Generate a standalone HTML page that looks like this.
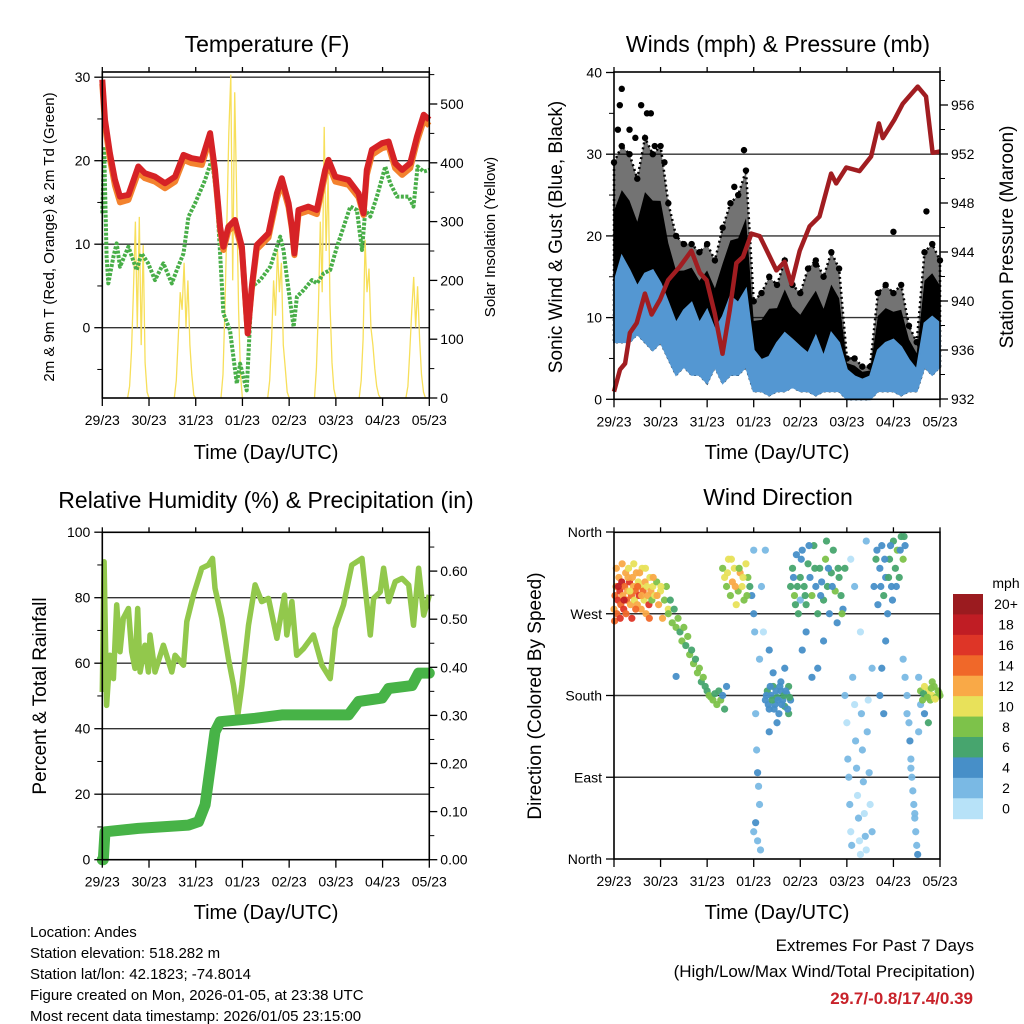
<!DOCTYPE html>
<html><head><meta charset="utf-8"><style>
html,body{margin:0;padding:0;background:#fff;}
svg{display:block;font-family:"Liberation Sans",sans-serif;}
</style></head><body>
<svg id="chart" width="1024" height="1024" viewBox="0 0 1024 1024" xmlns="http://www.w3.org/2000/svg">
<rect width="1024" height="1024" fill="#fff"/>
<g id="layer"></g>
<text x="267" y="52" font-size="23" text-anchor="middle">Temperature (F)</text>
<text x="778" y="52" font-size="23" text-anchor="middle">Winds (mph) &amp; Pressure (mb)</text>
<text x="266" y="508" font-size="23" text-anchor="middle">Relative Humidity (%) &amp; Precipitation (in)</text>
<text x="778" y="505" font-size="23" text-anchor="middle">Wind Direction</text>
<text transform="translate(54,237) rotate(-90)" font-size="15" text-anchor="middle">2m &amp; 9m T (Red, Orange) &amp; 2m Td (Green)</text>
<text transform="translate(495,237) rotate(-90)" font-size="15" text-anchor="middle">Solar Insolation (Yellow)</text>
<text transform="translate(562,237) rotate(-90)" font-size="19" text-anchor="middle">Sonic Wind &amp; Gust (Blue, Black)</text>
<text transform="translate(1013,237) rotate(-90)" font-size="19" text-anchor="middle">Station Pressure (Maroon)</text>
<text transform="translate(46,696) rotate(-90)" font-size="19" text-anchor="middle">Percent &amp; Total Rainfall</text>
<text transform="translate(541,696) rotate(-90)" font-size="19" text-anchor="middle">Direction (Colored By Speed)</text>
<text x="266" y="459" font-size="20" text-anchor="middle">Time (Day/UTC)</text>
<text x="777" y="459" font-size="20" text-anchor="middle">Time (Day/UTC)</text>
<text x="266" y="919" font-size="20" text-anchor="middle">Time (Day/UTC)</text>
<text x="777" y="919" font-size="20" text-anchor="middle">Time (Day/UTC)</text>
<g font-size="15">
<text x="30" y="937">Location: Andes</text>
<text x="30" y="958">Station elevation: 518.282 m</text>
<text x="30" y="979">Station lat/lon: 42.1823; -74.8014</text>
<text x="30" y="1000">Figure created on Mon, 2026-01-05, at 23:38 UTC</text>
<text x="30" y="1021">Most recent data timestamp: 2026/01/05 23:15:00</text>
</g>
<g font-size="17" text-anchor="end">
<text x="974" y="951">Extremes For Past 7 Days</text>
<text x="975" y="977">(High/Low/Max Wind/Total Precipitation)</text>
<text x="973" y="1004" fill="#c8222a" font-weight="bold">29.7/-0.8/17.4/0.39</text>
</g>
</svg>
<script>
// ---------- data ----------
const dayLabels = ["29/23","30/23","31/23","01/23","02/23","03/23","04/23","05/23"];
const tempTicks = [30,20,10,0];
const solarTicks = [0,100,200,300,400,500];
const windTicks = [0,10,20,30,40];
const pressTicks = [932,936,940,944,948,952,956];
const rhTicks = [0,20,40,60,80,100];
const rainTicks = [0,0.1,0.2,0.3,0.4,0.5,0.6];
const dirLabels = ["North","East","South","West","North"];
const dirTicks = [0,90,180,270,360];
const speedBins = ["0","2","4","6","8","10","12","14","16","18","20+"];
const speedColors = ["#b7e2f8","#7ab9e4","#478fc8","#47a56e","#7dc24a","#e8e15a","#f9a947","#f06829","#de3527","#c01d24","#9b1b1f"];

const tempT = [0,1.4,3.9,6.5,9.1,13.4,18.5,21.9,27.1,32.2,37.4,41.7,45.9,51.1,55.4,57.9,60.5,62.2,64.8,68.2,71.7,74.7,76.8,79.4,85.4,89.7,92.2,95.7,97.4,98.7,100.8,105.9,110.2,114.5,116.2,119.7,126.5,131.7,134.2,135.9,138.5,143.7,147.1,150.5,154,158.2,161.7,165.1,168];
const temp2m = [29.7,24.9,20.9,17.7,15.7,15.9,19.3,18.5,18.1,17.3,18.1,20.7,20.3,20.1,23.3,18.9,12.1,9.7,12.1,12.9,9.7,-0.7,4.9,9.9,11.3,16.1,17.9,14.9,12.1,8.9,14.1,14.5,14.1,18.9,20.1,18.1,17.7,16.1,13.7,18.9,21.3,22.1,22.3,19.7,18.9,19.7,22.9,25.5,24.9];
const temp9m = [29.2,24.2,20.2,17.0,15.0,15.3,18.6,17.9,17.5,16.7,17.5,20.1,19.7,19.5,22.7,18.5,11.8,9.3,11.6,12.3,9.3,-0.6,4.6,9.4,10.8,15.5,17.3,14.4,11.8,8.7,13.6,14.0,13.6,18.3,19.5,17.5,17.1,15.6,13.5,18.3,20.7,21.5,21.7,19.1,18.3,19.1,22.3,24.8,24.2];
const dewT = [0,0.9,2.2,3.1,5.7,7.4,9.1,13.4,17.6,20.2,23.6,27.1,31.4,35.7,38.3,41.7,44.3,47.7,52.8,56.2,58.8,60.5,62.2,65.6,69.1,70.8,74.2,76.8,81.1,86.3,91.4,93.1,94.8,98.3,100,103.4,107.7,110.3,113.7,117.1,120.6,127.4,130.8,133.4,135.1,137.7,141.1,145.4,147.9,151.4,157.4,159.9,162,165.1,168];
const dewVal = [13.7,21.7,8.5,5.3,8.5,10.1,7.3,9.7,6.9,8.9,7.7,5.7,7.7,5.3,6.9,8.9,13.3,14.9,17.7,20.1,15.7,8.9,1.7,-0.3,-6.7,-4.3,-7.5,4.9,5.7,7.3,10.9,9.3,6.1,0.1,3.7,4.5,5.7,5.3,6.5,6.9,9.7,14.5,14.1,9.3,14.1,13.3,15.7,19.3,17.3,15.7,15.7,14.5,19.3,18.7,18.9];
const solarStart = [13,37,61,85,109,132,156];
const solarDay1 = [0,20,80,180,300,120,308,90,260,60,10,0];
const solarDay2 = [0,30,100,180,150,230,120,200,90,40,5,0];
const solarDay3 = [0,40,150,300,450,550,200,520,350,150,40,0];
const solarDay4 = [0,30,100,200,140,252,180,230,90,50,10,0];
const solarDay5 = [0,50,150,300,180,461,250,380,160,60,15,0];
const solarDay6 = [0,30,100,269,180,220,120,90,50,20,5,0];
const solarDay7 = [0,20,80,150,206,120,190,100,40,10,0,0];

const windT = [0,4,8,12,16,20,24,28,32,36,40,44,48,52,56,60,64,68,72,76,80,84,88,92,96,100,104,108,112,116,120,124,128,132,136,140,144,148,152,156,160,164,168];
const windHi = [14.2,17.5,15.8,13.8,15.4,15.8,14.2,11.8,9.3,10.9,11.8,9.3,10.9,8.5,10.1,12.6,11.8,13.4,6.0,4.8,5.2,6.9,8.1,7.3,6.4,5.6,7.7,5.2,8.1,6.9,3.6,2.8,2.4,2.8,6.0,6.9,7.3,6.4,4.8,3.6,9.3,10.1,9.3];
const windLo = [7,7,7,8,7,6,7,5,3,4,3,3,2,4,2,3,3,4,1,1,0.5,1,1,1.5,1,1,0.5,1,1,1,0,0,0,0,1,1,1,0.5,1,1,4,3,4];
const gustHi = [29,31,30,27,32,30,31,24,20,19,19,18,19,17,21,24,25,28,12,13,15,14,17,14,13,16,17,15,18,16,5,5,4,4,13,14,13,14,9,7,18,19,17];
const gustOutT = [3,4,14,17,11,21,67,144,161,104,2,8,19,26,62];
const gustOutV = [36,38,36,35,32,31,30.5,20.5,23,16.5,33,33,35,29,26];
const pressT = [0,3.1,5.7,8.2,11.7,15.9,19.4,23.7,27.9,33.9,39.9,44.2,47.7,51.9,55.9,59.7,63.1,66.5,70.8,75.1,79.4,83.7,87.9,91.4,95.7,100.8,105.9,111.9,114.5,119.7,126.5,132.5,136.5,138.5,144.5,148.8,156.5,160.8,164.2,168];
const pressVal = [932.6,934.4,934.9,937.4,938.2,940.6,938.9,940.1,941.7,942.8,944.1,942.3,941.7,939.0,935.7,939.3,943.1,943.6,945.5,945.3,943.9,942.5,943.2,941.4,944.1,946.1,946.9,950.4,949.6,950.9,950.6,951.8,954.5,953.3,954.8,956.1,957.5,956.7,952.1,952.2];

const rhT = [0,0.9,2.2,3.9,5.7,7.4,9.1,10.8,13.4,15.1,16.8,18.2,19.4,21.9,23.7,24.5,27.1,31.4,35.7,37.4,41.7,43.4,46.8,51.1,54.5,56.6,57.9,61.4,64.8,67.4,69.6,71.7,75.1,78.5,81.9,85.4,89.7,93.6,94.8,97.4,99.9,103.4,108.5,112.8,117.1,119.7,123.9,128.2,133.4,137.7,139.4,142.8,144.5,147.1,150.5,154,157.4,159.9,162.5,165.1,168];
const rhVal = [51.2,91,47.1,62.4,55.3,77.8,63.5,73.7,76.7,63.5,58.4,76.7,57.3,65.5,57.3,68.6,57.3,65.5,57.3,62.4,59.4,72.7,80.8,89,90,92,82.9,73.7,61.4,53.3,44.1,53.3,71.6,83.9,78.8,79.8,67.6,80.8,68.6,78.8,62.4,64.5,68.6,59.4,55.3,70.6,77.8,90,92,68.6,79.8,81.8,89,78.8,84.9,85.9,83.9,71.6,89,74.7,80.8];
const rainT = [0,0.5,1.4,18.5,44.2,49.4,52.8,55.4,57.9,60.5,78.5,92.2,126.5,131.7,143.7,147.1,159.1,162.5,168];
const rainVal = [0,0,0.058,0.065,0.072,0.079,0.114,0.19,0.266,0.287,0.294,0.301,0.301,0.329,0.336,0.356,0.362,0.388,0.388];

const dirT = [0,0.5,1,1.5,2,2.5,3,3.5,4,4.5,5,5.5,6,6.5,7,7.5,8,8.5,9,9.5,10,10.5,11,11.5,12,12.5,13,13.5,14,14.5,15,15.5,16,16.5,17,17.5,18,18.5,19,19.5,20,21,22,23,24,25,26,27,28,
28,29,30,31,32,33,34,35,36,37,38,39,40,41,42,43,44,45,46,47,48,49,50,51,52,53,54,55,56,57,58,32,
56,57,58,59,60,61,62,63,64,65,66,67,68,69,70,71,72,
72,72.5,73,73.5,74,74.5,75,73,74,75.5,76,75,77,78,80,72,
78,79,80,81,82,83,84,85,86,87,88,89,90,91,84,80,86,82,88,90,
91,92,93,94,95,96,97,98,99,100,101,102,103,104,105,106,107,108,109,110,111,112,113,114,115,116,117,118,119,97,105,99,96,108,102,
119,120,120.5,121,121.5,122,122.5,123,124,124.5,125,125.5,126,126.5,127,127.5,128,128.5,129,129.5,130,130.5,131,131.5,132,133,124,127,130,122,133,
134,135,136,137,138,139,140,141,142,143,144,145,146,147,148,149,150,140,138,137,139,
149,150,151,152,152.5,153,153.5,154,154.5,155,155.5,156,156.5,151,153,155,157,158,157,
158,159,160,161,162,163,164,165,166,167,168,160,162,164,
0.3,1.2,2.2,3.2,4.2,5.2,6.2,7.2,8.2,9.2,10.2,11.2,12.2,13.2,14.2,16.2,18.2,20.2,22.2,24.2,
78.5,79.5,80.5,81.5,82.5,83.5,84.5,85.5,86.5,87.5,88.5,89.5,90.5,
92.5,94.5,96.5,98.5,100.5,103.5,106.5,109.5,112.5,115.5,117.5,93.5,110.5,
135.5,137.5,139.5,141.5,143.5,145.5,147.5,149.5,142.5,
159.5,161.5,163.5,165.5,167.5,
58.5,60.5,62.5,64.5,66.5,68.5];
const dirD = [275,290,300,270,285,310,295,280,305,290,275,300,315,285,295,320,305,280,290,310,300,285,295,315,280,305,290,300,275,320,295,285,305,270,300,290,280,310,295,285,300,290,305,280,295,265,285,300,275,
270,285,260,275,255,265,250,240,255,235,245,225,230,215,220,205,210,195,200,190,185,180,178,175,182,170,185,175,180,165,190,201,
320,310,300,330,290,305,320,280,295,315,300,285,325,310,300,290,270,
340,250,160,120,95,80,60,40,20,10,300,220,250,340,230,30,
175,185,165,180,190,170,178,160,185,175,168,182,190,175,150,140,195,205,210,160,
300,320,290,335,270,310,340,300,280,325,310,290,345,300,270,320,305,285,330,300,270,315,340,295,260,310,290,275,320,230,210,250,285,240,200,
180,150,110,90,60,30,15,200,170,130,100,70,45,20,5,160,120,85,50,25,10,140,175,95,60,30,300,250,350,330,210,
300,330,280,320,345,290,310,270,330,300,350,320,340,310,355,330,345,240,210,180,160,
220,200,180,150,130,110,90,75,60,45,30,15,5,160,100,50,140,170,200,
185,175,190,180,185,175,180,190,178,185,180,160,150,195,
262,320,300,265,325,285,270,310,295,265,325,275,300,315,290,320,265,310,290,300,
180,170,190,175,165,185,175,190,170,180,185,165,178,
310,300,330,290,345,320,290,350,300,320,270,280,320,
340,300,330,310,285,300,340,355,345,
182,178,188,176,183,
315,330,300,320,310,290];
const dirS = [12,13,11,14,16,12,15,13,17,12,15,14,11,13,12,10,16,12,14,11,12,10,13,11,12,10,15,9,12,10,13,9,11,12,9,11,16,10,12,8,10,9,8,11,9,12,8,7,9,
7,6,8,6,7,8,6,7,8,6,7,8,6,7,6,7,8,6,7,6,6,8,7,8,6,7,5,8,4,6,4,4,
8,9,7,10,8,12,9,10,8,11,9,8,9,7,5,4,3,
1,2,1,2,3,2,2,3,2,1,1,2,0,1,3,1,
4,5,4,3,5,4,5,4,3,4,5,4,5,4,4,4,4,4,3,6,
6,5,7,4,6,5,4,6,5,6,4,7,5,4,5,6,4,5,7,5,4,6,5,7,4,5,6,4,5,4,4,4,2,4,3,
1,0,1,2,1,0,1,1,0,1,2,0,1,0,0,1,2,1,0,1,0,1,0,1,0,1,1,0,1,0,1,
4,5,4,3,4,5,4,3,5,4,6,5,7,6,5,7,4,4,3,4,3,
1,1,2,2,3,2,1,2,1,2,1,2,3,2,1,1,1,2,1,
7,8,9,8,10,7,9,8,7,8,7,4,6,8,
14,12,18,15,11,17,13,12,10,15,9,14,13,12,11,9,13,11,12,10,
4,4,4,5,4,4,3,4,4,5,4,4,5,
4,6,4,5,4,6,4,5,4,6,7,6,4,
4,4,4,5,4,4,4,6,4,
6,8,7,9,8,
10,9,11,8,10,7];

// ---------- helpers ----------
const NS = "http://www.w3.org/2000/svg";
const layer = document.getElementById("layer");
function mk(tag, attrs, parent) {
  const e = document.createElementNS(NS, tag);
  for (const k in attrs) e.setAttribute(k, attrs[k]);
  (parent || layer).appendChild(e);
  return e;
}
const L = {x0:102.3, x1:429.3};
const R = {x0:614, x1:940};
const xL = t => L.x0 + t * (L.x1 - L.x0) / 168;
const xR = t => R.x0 + t * (R.x1 - R.x0) / 168;
const yT = v => 327.7 - v * 8.35;
const yS = v => 398 - v * 0.588;
const yW = v => 399.3 - v * 8.17;
const yP = p => 399 - (p - 932) * 12.25;
const yH = v => 859.7 - v * 3.275;
const yRain = v => 859.7 - v * 481;
const yD = d => 859 - d * (327 / 360);
function pathOf(ts, vs, fx, fy) {
  return ts.map((t, i) => (i ? "L" : "M") + fx(t).toFixed(1) + "," + fy(vs[i]).toFixed(1)).join("");
}
function frame(x0, x1, y0, y1, fx, name) {
  const g = mk("g", {});
  
  
  mk("rect", {x:x0, y:y0, width:x1-x0, height:y1-y0, fill:"none", stroke:"#000", "stroke-width":1.6}, g);
  dayLabels.forEach((lab, i) => {
    const x = fx(i * 24);
    mk("line", {x1:x, x2:x, y1:y1, y2:y1+8, stroke:"#000", "stroke-width":1.3}, g);
    mk("line", {x1:x, x2:x, y1:y0, y2:y0-5, stroke:"#000", "stroke-width":1.3}, g);
    const tx = mk("text", {x:x, y:y1+27, "font-size":14, "text-anchor":"middle"}, g);
    
    
    tx.textContent = lab;
  });
  return g;
}
function grid(ys, x0, x1, name) {
  ys.forEach(y => {
    const l = mk("line", {x1:x0, x2:x1, y1:y, y2:y, stroke:"#333", "stroke-width":1.4});
    
    
  });
}
function leftTicks(vals, fy, x, g, fmt, minor) {
  vals.forEach(v => {
    const y = fy(v);
    mk("line", {x1:x-8, x2:x, y1:y, y2:y, stroke:"#000", "stroke-width":1.3}, g);
    const t = mk("text", {x:x-12, y:y+5, "font-size":14, "text-anchor":"end"}, g);
    
    
    t.textContent = fmt ? fmt(v) : v;
  });
  (minor || []).forEach(v => { const y = fy(v); mk("line", {x1:x-5, x2:x, y1:y, y2:y, stroke:"#000", "stroke-width":1}, g); });
}
function rightTicks(vals, fy, x, g, fmt, minor) {
  vals.forEach(v => {
    const y = fy(v);
    mk("line", {x1:x, x2:x+8, y1:y, y2:y, stroke:"#000", "stroke-width":1.3}, g);
    const t = mk("text", {x:x+11, y:y+5, "font-size":14, "text-anchor":"start"}, g);
    
    
    t.textContent = fmt ? fmt(v) : v;
  });
  (minor || []).forEach(v => { const y = fy(v); mk("line", {x1:x, x2:x+5, y1:y, y2:y, stroke:"#000", "stroke-width":1}, g); });
}

// ---------- Panel 1: temperature ----------
grid(tempTicks.map(yT), L.x0, L.x1, "temperature-gridline");
const solarDays = [solarDay1, solarDay2, solarDay3, solarDay4, solarDay5, solarDay6, solarDay7];
solarDays.forEach((vals, k) => {
  const ts = vals.map((v, i) => solarStart[k] + i);
  const p = mk("path", {d:pathOf(ts, vals, xL, yS), fill:"none", stroke:"#f7df5a", "stroke-width":1.3});
  
  
});
const dew = mk("path", {d:pathOf(dewT, dewVal, xL, yT), fill:"none", stroke:"#48ae48", "stroke-width":4, "stroke-dasharray":"3 1.5", "stroke-linejoin":"round"});


const t9 = mk("path", {d:pathOf(tempT, temp9m, xL, yT), fill:"none", stroke:"#f3822e", "stroke-width":6, "stroke-linejoin":"round"});


const t2 = mk("path", {d:pathOf(tempT, temp2m, xL, yT), fill:"none", stroke:"#d62226", "stroke-width":6, "stroke-linejoin":"round"});


const g1 = frame(L.x0, L.x1, 72, 398, xL, "temperature");
leftTicks(tempTicks, yT, L.x0, g1, null, [25,15,5,-5]);
rightTicks(solarTicks, yS, L.x1, g1, null, [50,150,250,350,450,550]);

// ---------- Panel 2: winds ----------
grid([10,20,30].map(yW), R.x0, R.x1, "wind-gridline");
const lowerRev = pathOf(windT.slice().reverse(), windLo.slice().reverse(), xR, yW).replace("M","L");
const gustOuter = mk("path", {d:pathOf(windT, gustHi, xR, yW) + lowerRev + "Z", fill:"#000", "fill-opacity":0.55, stroke:"#000", "stroke-width":2.5, "stroke-dasharray":"2 3"});


const gustMid = windHi.map((w, i) => w + 0.6 * (gustHi[i] - w));
const gustInner = mk("path", {d:pathOf(windT, gustMid, xR, yW) + lowerRev + "Z", fill:"#000"});


windT.forEach((t, i) => {
  const c = mk("circle", {cx:xR(t), cy:yW(gustHi[i]), r:3.2, fill:"#000"});
  
  
});
gustOutT.forEach((t, i) => {
  const c = mk("circle", {cx:xR(t), cy:yW(gustOutV[i]), r:3.2, fill:"#000"});
  
  
});
const windArea = mk("path", {d:pathOf(windT, windHi, xR, yW) + lowerRev + "Z", fill:"#5497d2", stroke:"#5497d2", "stroke-width":2});


const pr = mk("path", {d:pathOf(pressT, pressVal, xR, yP), fill:"none", stroke:"#a11d21", "stroke-width":4.5, "stroke-linejoin":"round"});


const g2 = frame(R.x0, R.x1, 72, 399.3, xR, "winds");
leftTicks(windTicks, yW, R.x0, g2, null, [5,15,25,35]);
rightTicks(pressTicks, yP, R.x1, g2, null, [934,938,942,946,950,954,958]);

// ---------- Panel 3: humidity ----------
grid([20,40,60,80].map(yH), L.x0, L.x1, "humidity-gridline");
const rh = mk("path", {d:pathOf(rhT, rhVal, xL, yH), fill:"none", stroke:"#92c84c", "stroke-width":5.5, "stroke-linejoin":"round"});


const rain = mk("path", {d:pathOf(rainT, rainVal, xL, yRain), fill:"none", stroke:"#47b347", "stroke-width":11, "stroke-linejoin":"round", "stroke-linecap":"round"});


const g3 = frame(L.x0, L.x1, 532.3, 859.7, xL, "humidity");
leftTicks(rhTicks, yH, L.x0, g3, null, [10,30,50,70,90]);
rightTicks(rainTicks, yRain, L.x1, g3, v => v.toFixed(2), [0.05,0.15,0.25,0.35,0.45,0.55,0.65]);

// ---------- Panel 4: wind direction ----------
grid([90,180,270].map(yD), R.x0, R.x1, "direction-gridline");
dirT.forEach((t, i) => {
  const bin = Math.min(10, Math.max(0, Math.round(dirS[i] / 2)));
  const c = mk("circle", {cx:xR(t), cy:yD(dirD[i]), r:3.6, fill:speedColors[bin], "fill-opacity":0.95});
  
  
});
const g4 = frame(R.x0, R.x1, 532.3, 859, xR, "direction");
dirTicks.forEach((d, i) => {
  const y = yD(d);
  mk("line", {x1:R.x0-8, x2:R.x0, y1:y, y2:y, stroke:"#000", "stroke-width":1.3}, g4);
  const t = mk("text", {x:R.x0-12, y:y+5, "font-size":14, "text-anchor":"end"}, g4);
  
  
  t.textContent = dirLabels[i];
});

// ---------- colorbar ----------
const cb = mk("g", {});


const mph = mk("text", {x:1006, y:588, "font-size":14, "text-anchor":"middle"}, cb);


mph.textContent = "mph";
const boxH = (818.7 - 594) / speedBins.length;
speedBins.forEach((lab, i) => {
  const k = speedBins.length - 1 - i;
  const y = 594 + i * boxH;
  const r = mk("rect", {x:953, y:y, width:30, height:boxH + 0.5, fill:speedColors[k]}, cb);
  
  
  const t = mk("text", {x:1006, y:y + boxH/2 + 5, "font-size":14, "text-anchor":"middle"}, cb);
  
  
  t.textContent = speedBins[k];
});
</script>
</body></html>
